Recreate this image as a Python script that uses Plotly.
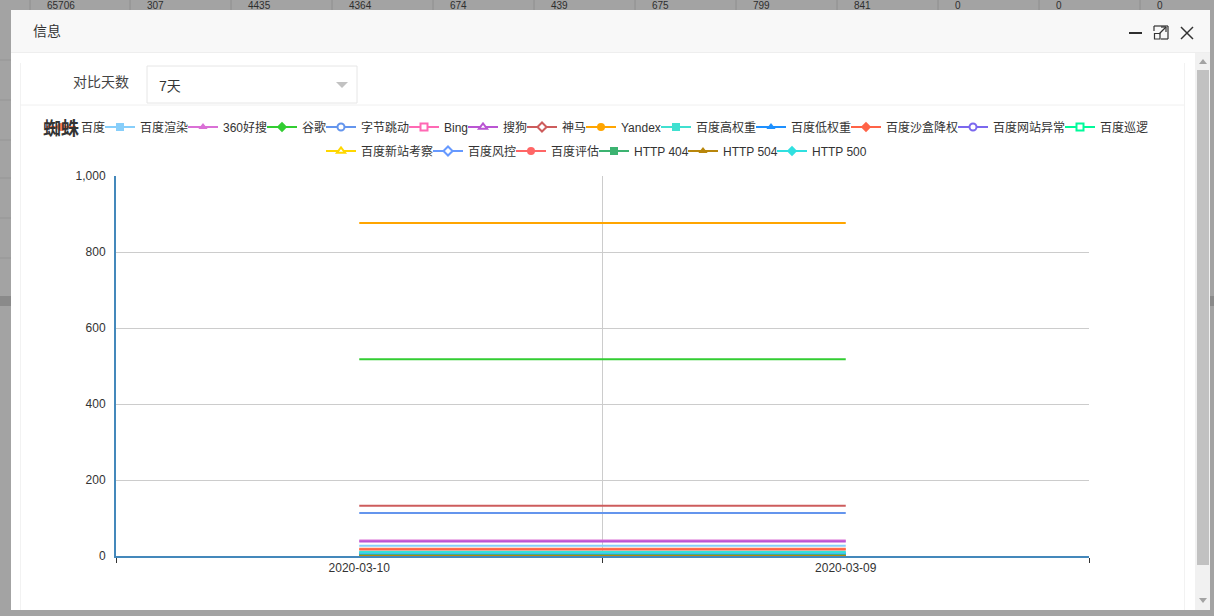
import plotly.graph_objects as go

# ---------------- data ----------------
dates = ['2020-03-10', '2020-03-09']
series_names = ['百度', '百度渲染', '360好搜', '谷歌', '字节跳动', 'Bing', '搜狗', '神马', 'Yandex',
                '百度高权重', '百度低权重', '百度沙盒降权', '百度网站异常', '百度巡逻',
                '百度新站考察', '百度风控', '百度评估', 'HTTP 404', 'HTTP 504', 'HTTP 500']
values_0310 = [19, 27, 41, 518, 113, 3, 38, 132, 876, 11, 5, 17, 0, 1, 0, 7, 0, 2, 0, 9]
values_0309 = [19, 27, 41, 518, 113, 3, 38, 132, 876, 11, 5, 17, 0, 1, 0, 7, 0, 2, 0, 9]
y_ticks = [0, 200, 400, 600, 800, 1000]
bg_row_values = ['65706', '307', '4435', '4364', '674', '439', '675', '799', '841', '0', '0', '0']

# ---------------- style ----------------
colors = ['#ff7f50', '#87cefa', '#da70d6', '#32cd32', '#6495ed', '#ff69b4', '#ba55d3', '#cd5c5c',
          '#ffa500', '#40e0d0', '#1e90ff', '#ff6347', '#7b68ee', '#00fa9a', '#ffd700', '#6699ff',
          '#ff6666', '#3cb371', '#b8860b', '#30e0e0']
sym_cycle = [('circle', False), ('square', False), ('triangle-up', False), ('diamond', False),
             ('circle', True), ('square', True), ('triangle-up', True), ('diamond', True)]
legend_text_w = [24, 48, 44, 24, 48, 24, 24, 24, 40, 60, 60, 72, 72, 48, 72, 48, 48, 54, 54, 54]
legend_groups = ['legend'] * 9 + ['legend2'] * 5 + ['legend3'] * 6

FONT = "Arial, 'Liberation Sans', 'Noto Sans CJK SC', sans-serif"
W, H = 1214, 616
PL, PR, PT, PB = 116, 1089, 176, 556


def X(px):
    return (px - PL) / (PR - PL)


def Y(py):
    return (PB - py) / (PB - PT)


fig = go.Figure()

# data lines
for i, name in enumerate(series_names):
    fig.add_trace(go.Scatter(
        x=dates, y=[values_0310[i], values_0309[i]], mode='lines', name=name,
        line=dict(color=colors[i], width=2), showlegend=False))

# legend proxies (ECharts-like icon: line + symbol)
n = len(series_names)
for i, name in enumerate(series_names):
    sym, empty = sym_cycle[i % 8]
    last_in_group = (i == n - 1) or (legend_groups[i + 1] != legend_groups[i])
    lw = legend_text_w[i] + 6 if last_in_group else legend_text_w[i] - 10
    fig.add_trace(go.Scatter(
        x=[None], y=[None], mode='lines+markers', name=name,
        line=dict(color=colors[i], width=2),
        marker=dict(symbol=sym, size=8 if not empty else 7, color='white' if empty else colors[i],
                    line=dict(color=colors[i], width=2 if empty else 0)),
        legend=legend_groups[i], legendwidth=lw, showlegend=True))

shapes = []


def rect(x0, y0, x1, y1, fill=None, line=None, lw=1):
    shapes.append(dict(type='rect', xref='paper', yref='paper', x0=X(x0), x1=X(x1), y0=Y(y1), y1=Y(y0),
                       fillcolor=fill or 'rgba(0,0,0,0)',
                       line=dict(color=line or 'rgba(0,0,0,0)', width=lw if line else 0),
                       layer='below'))


def seg(x0, y0, x1, y1, color, lw=1, layer='below'):
    shapes.append(dict(type='line', xref='paper', yref='paper', x0=X(x0), x1=X(x1), y0=Y(y0), y1=Y(y1),
                       line=dict(color=color, width=lw), layer=layer))


def poly(pts, fill):
    d = 'M ' + ' L '.join(f'{X(a):.5f},{Y(b):.5f}' for a, b in pts) + ' Z'
    shapes.append(dict(type='path', xref='paper', yref='paper', path=d, fillcolor=fill,
                       line=dict(width=0), layer='below'))


# background table strip dividers
col_x = [30, 130, 231, 332, 433, 534, 635, 736, 837, 938, 1039, 1140]
for cx in col_x:
    seg(cx, 0, cx, 10, '#8e8e8e')
# side bands
rect(0, 296, 11, 306, fill='#8a8a8a')
rect(1210, 296, 1214, 306, fill='#8a8a8a')
for ry in [60, 100, 140, 178, 218, 258]:
    seg(0, ry, 11, ry, '#959595')

# modal
rect(11, 10, 1210, 610, fill='#ffffff')
rect(11, 10, 1210, 52, fill='#f8f8f8')
seg(11, 52.5, 1210, 52.5, '#eeeeee')
# card borders
seg(20.5, 63, 20.5, 610, '#f2f2f2')
seg(1184.5, 63, 1184.5, 610, '#f2f2f2')
seg(20, 105, 1184, 105, '#f0f0f0')
# select box
rect(147, 66, 357, 103, fill='#ffffff', line='#e6e6e6')
poly([(336, 82), (348, 82), (342, 88)], '#c2c2c2')
# scrollbar
rect(1195, 53, 1210, 610, fill='#f1f1f1')
rect(1197, 70, 1209, 565, fill='#c1c1c1')
poly([(1199, 64), (1207, 64), (1203, 59)], '#a3a3a3')
poly([(1199, 598), (1207, 598), (1203, 603)], '#a3a3a3')
# header icons
seg(1129, 33, 1142, 33, '#2e2e2e', 2)
seg(1154, 31, 1154, 26, '#333', 1.2)
seg(1154, 26, 1168, 26, '#333', 1.2)
seg(1168, 26, 1168, 39, '#333', 1.2)
seg(1168, 39, 1161, 39, '#333', 1.2)
rect(1154.5, 33.5, 1160, 39, line='#333', lw=1.2)
seg(1159, 34, 1166, 27, '#333', 1.2)
seg(1161, 27, 1166, 27, '#333', 1.2)
seg(1166, 27, 1166, 32, '#333', 1.2)
seg(1181, 27, 1193, 39, '#333', 1.5)
seg(1181, 39, 1193, 27, '#333', 1.5)

annotations = []


def text(t, x, y, size=14, color='#333', xanchor='left', bold=False):
    annotations.append(dict(text=f'<b>{t}</b>' if bold else t, x=X(x), y=Y(y), xref='paper', yref='paper',
                            xanchor=xanchor, yanchor='middle', showarrow=False,
                            font=dict(size=size, color=color, family=FONT)))


for cx, v in zip(col_x, bg_row_values):
    text(v, cx + 15, 5, 10, '#2e2e2e')
text('信息', 31, 31, 14, '#333')
text('对比天数', 131, 82, 14, '#444', xanchor='right')
text('7天', 157, 86, 14, '#333')
text('蜘蛛', 41, 129, 18, '#333', bold=True)

legend_common = dict(orientation='h', xanchor='left', yanchor='middle', bgcolor='rgba(0,0,0,0)',
                     font=dict(size=12, color='#333', family=FONT), itemwidth=30,
                     itemclick=False, itemdoubleclick=False, xref='paper', yref='paper')

fig.update_layout(
    width=W, height=H,
    margin=dict(l=PL, r=W - PR, t=PT, b=H - PB, pad=0, autoexpand=False),
    paper_bgcolor='#a3a3a3', plot_bgcolor='#ffffff',
    font=dict(family=FONT, size=12, color='#333'),
    shapes=shapes, annotations=annotations,
    legend=dict(x=X(41), y=Y(127), **legend_common),
    legend2=dict(x=X(656), y=Y(127), **legend_common),
    legend3=dict(x=X(321), y=Y(151), **legend_common),
    xaxis=dict(type='category', categoryorder='array', categoryarray=dates, range=[-0.5, 1.5],
               tickson='boundaries', ticks='outside', ticklen=5, tickcolor='#333', tickwidth=1,
               showgrid=True, gridcolor='#cccccc', gridwidth=1,
               showline=True, linecolor='#4488bb', linewidth=2, zeroline=False,
               tickfont=dict(size=12, color='#333', family=FONT), fixedrange=True),
    yaxis=dict(range=[0, 1000], tickvals=y_ticks, tickformat=',', ticks='outside', ticklen=6,
               tickcolor='rgba(0,0,0,0)', showgrid=True, gridcolor='#cccccc', gridwidth=1,
               showline=True, linecolor='#4488bb', linewidth=2, zeroline=False,
               tickfont=dict(size=12, color='#333', family=FONT), fixedrange=True),
    hovermode=False,
)

fig.write_html('out.html', config={'displayModeBar': False})
